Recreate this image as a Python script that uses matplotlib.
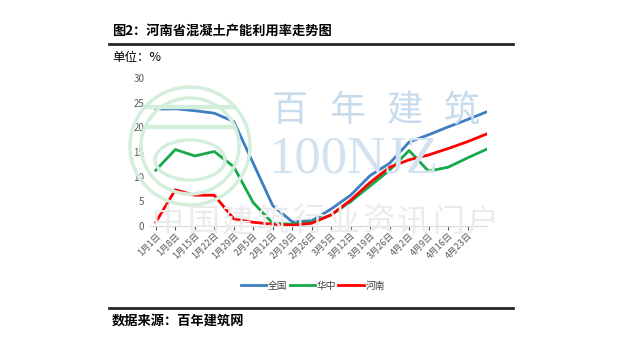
import matplotlib.pyplot as plt
from matplotlib.lines import Line2D
from matplotlib.patches import Ellipse, Rectangle

plt.rcParams['font.family'] = ['Noto Sans CJK SC', 'DejaVu Sans']

dates = ['1月1日', '1月8日', '1月15日', '1月22日', '1月29日', '2月5日', '2月12日',
         '2月19日', '2月26日', '3月5日', '3月12日', '3月19日', '3月26日', '4月2日',
         '4月9日', '4月16日', '4月23日']
quanguo = [23.7, 23.8, 23.4, 22.9, 21.2, 12.7, 4.1, 0.8, 1.0, 3.4, 6.2, 10.2,
           12.7, 17.0, 18.5, 20.1, 21.6, 23.2]
huazhong = [11.3, 15.5, 14.2, 15.1, 12.0, 4.7, 0.5, 0.3, 0.7, 2.2, 4.9, 8.1,
            11.3, 15.3, 11.1, 11.9, 13.8, 15.6]
henan = [0.7, 7.3, 6.2, 6.2, 1.4, 0.7, 0.3, 0.1, 0.5, 2.2, 5.2, 8.8,
         11.9, 13.4, 14.4, 15.7, 17.1, 18.7]
series_names = ['全国', '华中', '河南']
colors = ['#3d7dc0', '#16a94a', '#ff0000']

W, H = 640, 362


def fx(px):
    return px / W


def fy(py):
    return 1 - py / H


fig = plt.figure(figsize=(6.4, 3.62), dpi=100)

# watermark: logo + site name (drawn faint, behind the chart)
logo_c = (fx(190), fy(146))
for w, h in [(120, 118), (98, 96)]:
    fig.patches.append(Ellipse(logo_c, fx(w), h / H, transform=fig.transFigure,
                               fill=False, ec='#d3eedb', lw=2.5, zorder=0))
fig.patches.append(Ellipse((fx(190), fy(160)), fx(70), 40 / H, transform=fig.transFigure,
                           fill=False, ec='#d3eedb', lw=2.5, zorder=0))
for yy in [108, 128]:
    fig.patches.append(Rectangle((fx(145), fy(yy)), fx(90), 3 / H, transform=fig.transFigure,
                                 color='#d3eedb', zorder=0))
for ch, cx in zip('百年建筑', [290, 347, 405, 462]):
    fig.text(fx(cx), fy(111), ch, fontsize=26, color='#c6dbee', ha='center', va='center')
fig.text(fx(268), fy(159), '100NJZ', fontsize=38, color='#d2e2f1', ha='left', va='center',
         family='Liberation Serif')
for i, ch in enumerate('中国建筑行业资讯门户'):
    fig.text(fx(168 + i * 35), fy(222), ch, fontsize=23, color='#ebebeb',
             ha='center', va='center')

ax = fig.add_axes([fx(150), fy(225.7), fx(337), 147.4 / H])
ax.patch.set_alpha(0)
x = list(range(len(quanguo)))
for vals, c, name in zip([quanguo, huazhong, henan], colors, series_names):
    ax.plot(x, vals, color=c, lw=2, label=name)

ax.set_xlim(-0.3, len(quanguo) - 1)
ax.set_ylim(0, 30)
ax.set_yticks(range(0, 31, 5))
ax.set_xticks(range(len(dates)))
ax.set_xticklabels(dates, rotation=45, ha='right', rotation_mode='anchor')
ax.tick_params(axis='y', length=0, labelsize=7, colors='#595959', pad=4)
ax.tick_params(axis='x', length=3, labelsize=6.5, colors='#595959', pad=1)
for s in ['top', 'right', 'left']:
    ax.spines[s].set_visible(False)
ax.spines['bottom'].set_color('#d9d9d9')

handles = [Line2D([], [], color=c, lw=2) for c in colors]
fig.legend(handles, series_names, loc='center', bbox_to_anchor=(fx(313), fy(285.7)),
           ncol=3, frameon=False, fontsize=7, handlelength=2.6, columnspacing=0.2,
           handletextpad=0.2, labelcolor='#404040')

fig.text(fx(112), fy(31), '图2：河南省混凝土产能利用率走势图', fontsize=9.5,
         fontweight='bold', va='center', ha='left')
fig.add_artist(Line2D([fx(109), fx(513)], [fy(43.5)] * 2, color='#262626', lw=2))
fig.text(fx(112), fy(58), '单位：%', fontsize=9, va='center', ha='left')
fig.add_artist(Line2D([fx(109), fx(513)], [fy(307.5)] * 2, color='#262626', lw=2))
fig.text(fx(112), fy(320.5), '数据来源：百年建筑网', fontsize=9.5,
         fontweight='bold', va='center', ha='left')

fig.savefig('out.png', dpi=100)
